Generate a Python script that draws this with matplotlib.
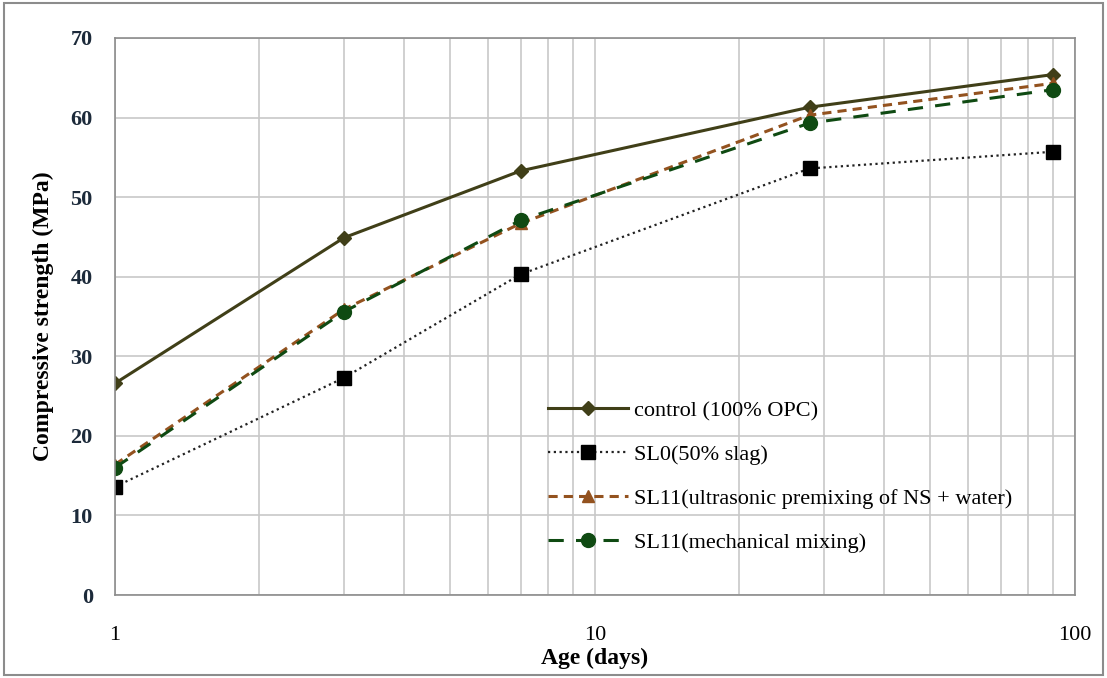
import matplotlib.pyplot as plt
from matplotlib.ticker import FixedLocator, NullFormatter
from matplotlib.patches import Rectangle

# data
age = [1, 3, 7, 28, 90]
control = [26.6, 44.9, 53.3, 61.3, 65.4]
sl0 = [13.6, 27.3, 40.3, 53.6, 55.7]
sl11_ultra = [16.4, 35.9, 46.7, 60.3, 64.3]
sl11_mech = [16.0, 35.6, 47.1, 59.3, 63.5]

labels = ["control (100% OPC)", "SL0(50% slag)",
          "SL11(ultrasonic premixing of NS + water)", "SL11(mechanical mixing)"]

plt.rcParams['font.family'] = ['Liberation Serif', 'DejaVu Serif']

fig = plt.figure(figsize=(11.07, 6.78), dpi=100)
ax = fig.add_axes([0.1039, 0.1224, 0.8671, 0.8216])

# series
ax.plot(age, control, color='#403f18', lw=2.2, marker='D', ms=7, label=labels[0])
ax.plot(age, sl0, color='#222222', lw=1.6, ls=(0, (1, 1.6)), marker='s', ms=10,
        mfc='black', mec='black', label=labels[1])
ax.plot(age, sl11_ultra, color='#93521f', lw=2.2, ls=(0, (3, 2)), marker='^', ms=8,
        label=labels[2])
ax.plot(age, sl11_mech, color='#0f4a12', lw=2.2, ls=(0, (5, 4)), marker='o', ms=10,
        label=labels[3])

ax.set_xscale('log')
ax.set_xlim(1, 100)
ax.set_ylim(0, 70)
ax.set_yticks(range(0, 71, 10))
ax.xaxis.set_major_locator(FixedLocator([1, 10, 100]))
ax.xaxis.set_minor_locator(FixedLocator([2, 3, 4, 5, 6, 7, 8, 9,
                                         20, 30, 40, 50, 60, 70, 80, 90]))
ax.xaxis.set_minor_formatter(NullFormatter())
ax.set_xticklabels(['1', '10', '100'])

ax.grid(True, which='both', axis='x', color='#c8c8c8', lw=1.2)
ax.grid(True, which='major', axis='y', color='#c8c8c8', lw=1.2)
ax.set_axisbelow(True)
ax.tick_params(which='both', length=0)
ax.tick_params(axis='x', labelsize=16, pad=22)
ax.tick_params(axis='y', labelsize=16, pad=16)
for t in ax.get_yticklabels():
    t.set_fontweight('bold')
    t.set_color('#1c2a3a')
for s in ax.spines.values():
    s.set_color('#8c8c8c')
    s.set_linewidth(1.2)

ax.set_xlabel('Age (days)', fontsize=17, fontweight='bold', labelpad=2)
ax.set_ylabel('Compressive strength (MPa)', fontsize=17, fontweight='bold', labelpad=12)

leg = ax.legend(loc='upper left', bbox_to_anchor=(0.442, 0.365), frameon=False,
                fontsize=16, handlelength=3.6, labelspacing=1.05, handletextpad=0.25,
                borderaxespad=0)

# outer border of the picture
fig.patches.append(Rectangle((0.004, 0.004), 0.992, 0.992, transform=fig.transFigure,
                             fill=False, edgecolor='#8c8c8c', lw=1.5))

fig.savefig('out.png', dpi=100)
